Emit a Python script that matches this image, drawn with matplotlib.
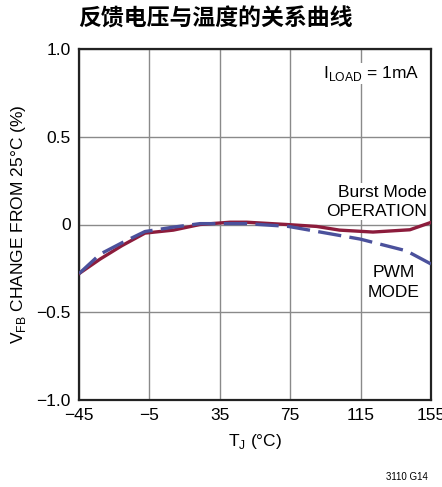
import matplotlib

matplotlib.use("Agg")
import matplotlib.pyplot as plt

# feedback voltage change vs junction temperature
temp_burst = [-45, -33, -20.7, -7.5, 8.6, 23.75, 40.8, 50.3, 73, 90, 103, 122, 143, 155]
vfb_burst = [-0.28, -0.197, -0.121, -0.049, -0.032, 0.0, 0.013, 0.013, 0.0, -0.011, -0.032, -0.043, -0.030, 0.012]

temp_pwm = [-45, -33, -19.8, -7.5, 8.6, 23.75, 50, 74, 93.8, 114.7, 141, 155]
vfb_pwm = [-0.28, -0.169, -0.10, -0.04, -0.015, 0.005, 0.005, -0.011, -0.046, -0.083, -0.15, -0.225]

x_ticks = [-45, -5, 35, 75, 115, 155]
y_ticks = [-1.0, -0.5, 0, 0.5, 1.0]
y_ticklabels = ["\u22121.0", "\u22120.5", "0", "0.5", "1.0"]
x_ticklabels = ["\u221245", "\u22125", "35", "75", "115", "155"]

font = ["Liberation Sans Narrow", "Liberation Sans", "DejaVu Sans"]
plt.rcParams["font.family"] = font

fig = plt.figure(figsize=(4.42, 4.87), dpi=100)
ax = fig.add_axes([79 / 442, 87 / 487, 352 / 442, 351 / 487])

ax.plot(temp_burst, vfb_burst, color="#8c1c3c", lw=2.4, zorder=3)
ax.plot(temp_pwm, vfb_pwm, color="#4b519c", lw=2.4, dashes=(7, 2.5), zorder=3)

ax.set_xlim(-45, 155)
ax.set_ylim(-1.0, 1.0)
ax.set_xticks(x_ticks)
ax.set_xticklabels(x_ticklabels)
ax.set_yticks(y_ticks)
ax.set_yticklabels(y_ticklabels)
ax.tick_params(length=0, labelsize=12.5, pad=6)
ax.grid(True, color="#8a8a8a", lw=1.0)
ax.set_axisbelow(True)
for s in ax.spines.values():
    s.set_linewidth(1.6)
    s.set_color("#222222")

ax.set_xlabel("T$_\\mathregular{J}$ (\u00b0C)", fontsize=12.5, labelpad=6)
ax.set_ylabel("V$_\\mathregular{FB}$ CHANGE FROM 25\u00b0C (%)", fontsize=12.5, labelpad=6)

box = dict(facecolor="white", edgecolor="none", pad=1)
ax.text(148, 0.86, "I$_\\mathregular{LOAD}$ = 1mA", fontsize=12.5, ha="right", va="center", bbox=box)
ax.text(152.5, 0.13, "Burst Mode\nOPERATION", fontsize=12.5, ha="right", va="center",
        linespacing=1.35, bbox=box)
ax.text(134, -0.33, "PWM\nMODE", fontsize=12.5, ha="center", va="center",
        linespacing=1.35, bbox=box)

fig.text(215 / 442, 1 - 19 / 487, "反馈电压与温度的关系曲线", fontsize=16.5, fontweight="bold",
         ha="center", va="center", family=["Noto Sans CJK SC", "DejaVu Sans"])
fig.text(428 / 442, 1 - 477 / 487, "3110 G14", fontsize=7, ha="right", va="center")

fig.savefig("out.png")
